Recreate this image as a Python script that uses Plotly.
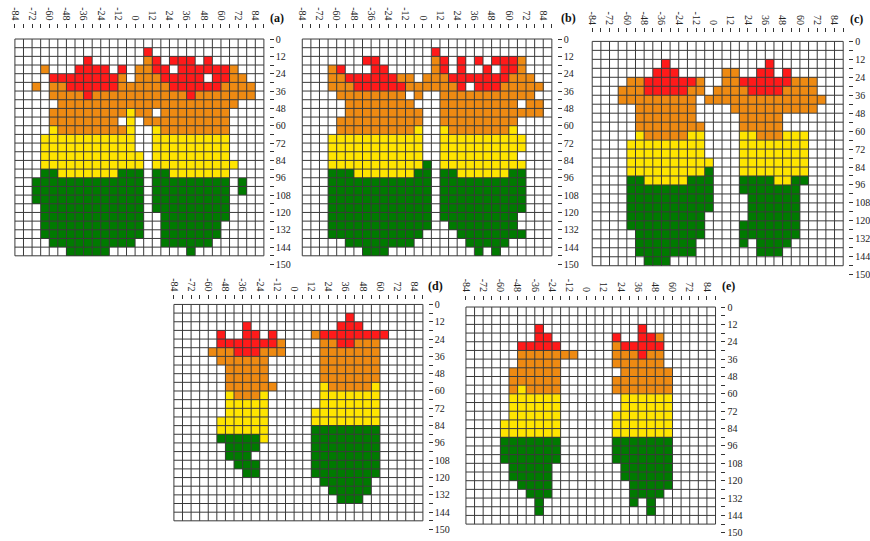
import plotly.graph_objects as go

# ---------------------------------------------------------------------------
# Grid definition: 29 columns of width 6 (x from -84 to 90), 25 rows of
# height 6 (y from 0 to 150).  Cells are coded G/Y/O/R; rows list colour runs
# as "start-end<code>" column ranges.
# ---------------------------------------------------------------------------
X_EDGES = list(range(-84, 91, 6))
Y_EDGES = list(range(0, 151, 6))
X_CENTERS = [e + 3 for e in X_EDGES[:-1]]
Y_CENTERS = [e + 3 for e in Y_EDGES[:-1]]

X_TICKS = list(range(-84, 85, 12))
X_TICKTEXT = [str(v) for v in X_TICKS]
X_MINOR = list(range(-78, 91, 12))
Y_TICKS = list(range(0, 145, 12)) + [156]
Y_TICKTEXT = [str(v) for v in range(0, 145, 12)] + ["150"]
Y_MINOR = list(range(6, 151, 12))

CODES = {"G": 1, "Y": 2, "O": 3, "R": 4}
COLORS = ["#ffffff", "#007a00", "#ffe500", "#ee8a12", "#ff1a1a"]

ROWS_A = [
    "", "15R",
    "8R 15O 16R 18-20R 22R",
    "3O 7-10R 12R 14-15O 16-17R 19-24R 25O",
    "4-11R 12O 14-16O 17-21R 23-24R 25-26O",
    "2O 4-5O 6-11R 12-17O 18-23R 24-27O",
    "4-7O 8R 9-19O 20R 21-27O",
    "5-25O",
    "4-12O 13Y 14-15O 17-24O",
    "4-11O 13Y 15-24O",
    "4Y 5-12O 13Y 16Y 17-24O",
    "3-13Y 16-24Y",
    "3-13Y 16-24Y",
    "3-14Y 16-24Y",
    "3-14Y 16-25Y",
    "3-4G 5-11Y 12-14G 16-17G 18-24Y",
    "2-14G 16-24G 26G",
    "2-14G 16-24G 26G",
    "2-14G 16-24G",
    "3-14G 16-24G",
    "3-14G 17-24G",
    "3-14G 17-23G",
    "3-14G 17-23G",
    "4-13G 17-22G",
    "6-10G 20G",
]

ROWS_B = [
    "", "15R",
    "7-8R 15O 16R 18R 20R 22-24R 25O",
    "3O 4R 8-9R 15O 16R 18R 21R 23-24R 25O",
    "3-4O 5-10R 11-12O 14-16O 17-23R 24-26O",
    "3-5O 6-11R 12-17O 18R 20-22R 23-27O",
    "4-11O 13O 16-26O",
    "5-12O 16-24O 26-27O",
    "5-13O 16-27O",
    "4-13O 16-24O",
    "4-12O 13Y 16Y 17-23O 24Y",
    "3-13Y 16-25Y",
    "3-13Y 16-25Y",
    "3-13Y 16-24Y",
    "3-13Y 14G 16-25Y",
    "3-5G 6-12Y 13-14G 16-17G 18-23Y 24-25G",
    "3-14G 16-25G",
    "3-14G 16-25G",
    "3-14G 16-25G",
    "3-14G 16-25G",
    "3-14G 16-24G",
    "3-14G 17-24G",
    "3-13G 18-25G",
    "5-12G 19-23G",
    "7-9G 20G 22G",
]

ROWS_C = [
    "", "",
    "8R 20R",
    "7-9R 15-16O 19-20R 22R",
    "4-5O 6-11R 12O 15-16O 17-22R 23-25O",
    "3-5O 6-10R 11-12O 14-17O 18-21R 22-25O",
    "3-11O 13-26O",
    "5-11O 16-25O",
    "5-11O 17-21O",
    "5-12O 17-21O",
    "5Y 6-10O 11-12Y 17-18Y 19-21O 22-24Y",
    "4-12Y 17-24Y",
    "4-12Y 17-24Y",
    "4-13Y 17-24Y",
    "4-12Y 13G 17-24Y",
    "4-5G 6-10Y 11-13G 17-20G 21-22Y 23-24G",
    "4-13G 17-23G",
    "4-13G 18-23G",
    "4-13G 18-23G",
    "4-12G 18-23G",
    "4-12G 17-23G",
    "5-12G 17-23G",
    "5-11G 17G 19-22G",
    "5-11G 19-21G",
    "6-8G",
]

ROWS_D = [
    "", "20R",
    "8R 19-21R",
    "5R 8-9R 11R 16O 17-24R",
    "5-11R 12O 17-18O 19-20R 21-23O",
    "4-6O 7-9R 10-12O 17-23O",
    "5-10O 17-23O",
    "6-10O 17-23O",
    "6-10O 17-23O",
    "6-11O 17Y 18-22O 23Y",
    "6Y 7-9O 10Y 17-23Y",
    "6-10Y 17-23Y",
    "6-10Y 16-23Y",
    "5-10Y 16-23Y",
    "5-10Y 16-23G",
    "5-9G 10Y 16-23G",
    "6-9G 16-23G",
    "6-8G 16-23G",
    "7-9G 16-23G",
    "8-9G 16-23G",
    "17-22G",
    "18-22G",
    "19-21G",
    "", "",
]

ROWS_E = [
    "", "",
    "8R 20R",
    "8-9R 17R 20-21R 22O",
    "6-10R 17O 18-22R",
    "6-12O 17-19O 20R 21-22O",
    "6-10O 17-22O",
    "5-10O 18-23O",
    "5-10O 17-23O",
    "5O 6Y 7-10O 17-23O",
    "5-10Y 18-23Y",
    "5-10Y 18-23Y",
    "5-10Y 17-23Y",
    "4-10Y 17-23Y",
    "4-10Y 17-23Y",
    "4-10G 17-23G",
    "4-10G 17-23G",
    "4-10G 17-23G",
    "5-9G 18-23G",
    "5-9G 18-23G",
    "6-9G 19-23G",
    "7-9G 19-22G",
    "8G 19G 21G",
    "8G 21G",
    "",
]

# Panel frames on the page (pixels): grid box, gap to the top ticks, label spot
PANELS = [
    ("(a)", ROWS_A, (12.0, 263.0, 38.3, 256.7), 10.0, (276, 17)),
    ("(b)", ROWS_B, (301.7, 553.3, 38.3, 256.7), 10.0, (570, 17)),
    ("(c)", ROWS_C, (594.0, 847.0, 40.7, 266.7), 8.0, (860, 18)),
    ("(d)", ROWS_D, (172.3, 423.3, 305.7, 523.7), 4.5, (436, 287)),
    ("(e)", ROWS_E, (466.7, 718.3, 308.3, 527.0), 6.5, (731, 287)),
]

W, H = 870, 541
RIGHT_GAP = 5.0
FONT = "Liberation Serif, Times New Roman, serif"


def to_matrix(rows):
    z = []
    for spec in rows:
        line = [0] * len(X_CENTERS)
        for tok in spec.split():
            rng, code = tok[:-1], tok[-1]
            a, _, b = rng.partition("-")
            for c in range(int(a), int(b or a) + 1):
                line[c] = CODES[code]
        z.append(line)
    return z


def grid_lines():
    xs, ys = [], []
    for x in X_EDGES:
        xs += [x, x, None]
        ys += [Y_EDGES[0], Y_EDGES[-1], None]
    for y in Y_EDGES:
        xs += [X_EDGES[0], X_EDGES[-1], None]
        ys += [y, y, None]
    return xs, ys


n = len(COLORS)
colorscale = []
for i, col in enumerate(COLORS):
    colorscale += [[i / n, col], [(i + 1) / n, col]]

fig = go.Figure()
layout = dict(
    width=W, height=H,
    margin=dict(l=0, r=0, t=0, b=0),
    paper_bgcolor="white", plot_bgcolor="white",
    showlegend=False,
    annotations=[],
)

gx, gy = grid_lines()
tickfont = dict(family=FONT, size=10, color="#222222")

for k, (label, rows, (x0, x1, y0, y1), top_gap, (lx, ly)) in enumerate(PANELS, start=1):
    sfx = "" if k == 1 else str(k)
    xref, yref = "x" + sfx, "y" + sfx

    fig.add_trace(go.Heatmap(
        x=X_CENTERS, y=Y_CENTERS, z=to_matrix(rows),
        zmin=-0.5, zmax=n - 0.5, colorscale=colorscale, showscale=False,
        hoverinfo="skip", xaxis=xref, yaxis=yref,
    ))
    fig.add_trace(go.Scatter(
        x=gx, y=gy, mode="lines", line=dict(color="#3a3a3a", width=1),
        hoverinfo="skip", xaxis=xref, yaxis=yref,
    ))

    pxu_x = (x1 - x0) / (X_EDGES[-1] - X_EDGES[0])
    pxu_y = (y1 - y0) / (Y_EDGES[-1] - Y_EDGES[0])
    left_pad = 1.5
    x_lo = X_EDGES[0] - left_pad
    x_hi = X_EDGES[-1] + RIGHT_GAP / pxu_x
    y_bottom = 157.5
    y_top = -top_gap / pxu_y

    dom_x = [(x0 - left_pad * pxu_x) / W, (x1 + RIGHT_GAP) / W]
    top_px = y0 - top_gap
    bot_px = y0 + y_bottom * pxu_y
    dom_y = [1 - bot_px / H, 1 - top_px / H]

    layout["xaxis" + sfx] = dict(
        domain=dom_x, range=[x_lo, x_hi], anchor=yref, side="top",
        tickmode="array", tickvals=X_TICKS, ticktext=X_TICKTEXT,
        ticks="outside", ticklen=4, tickwidth=1, tickcolor="#333333",
        tickangle=90, tickfont=tickfont,
        minor=dict(tickvals=X_MINOR, ticks="outside", ticklen=4,
                   tickwidth=1, tickcolor="#333333", showgrid=False),
        showgrid=False, zeroline=False, showline=False, fixedrange=True,
    )
    layout["yaxis" + sfx] = dict(
        domain=dom_y, range=[y_bottom, y_top], anchor=xref, side="right",
        tickmode="array", tickvals=Y_TICKS, ticktext=Y_TICKTEXT,
        ticks="outside", ticklen=4, tickwidth=1, tickcolor="#333333",
        tickfont=tickfont,
        minor=dict(tickvals=Y_MINOR, ticks="outside", ticklen=4,
                   tickwidth=1, tickcolor="#333333", showgrid=False),
        showgrid=False, zeroline=False, showline=False, fixedrange=True,
    )
    layout["annotations"].append(dict(
        text="<b>%s</b>" % label, x=lx / W, y=1 - ly / H,
        xref="paper", yref="paper", showarrow=False,
        xanchor="center", yanchor="middle",
        font=dict(family=FONT, size=12, color="#111111"),
    ))

fig.update_layout(**layout)
fig.write_html("out.html")
